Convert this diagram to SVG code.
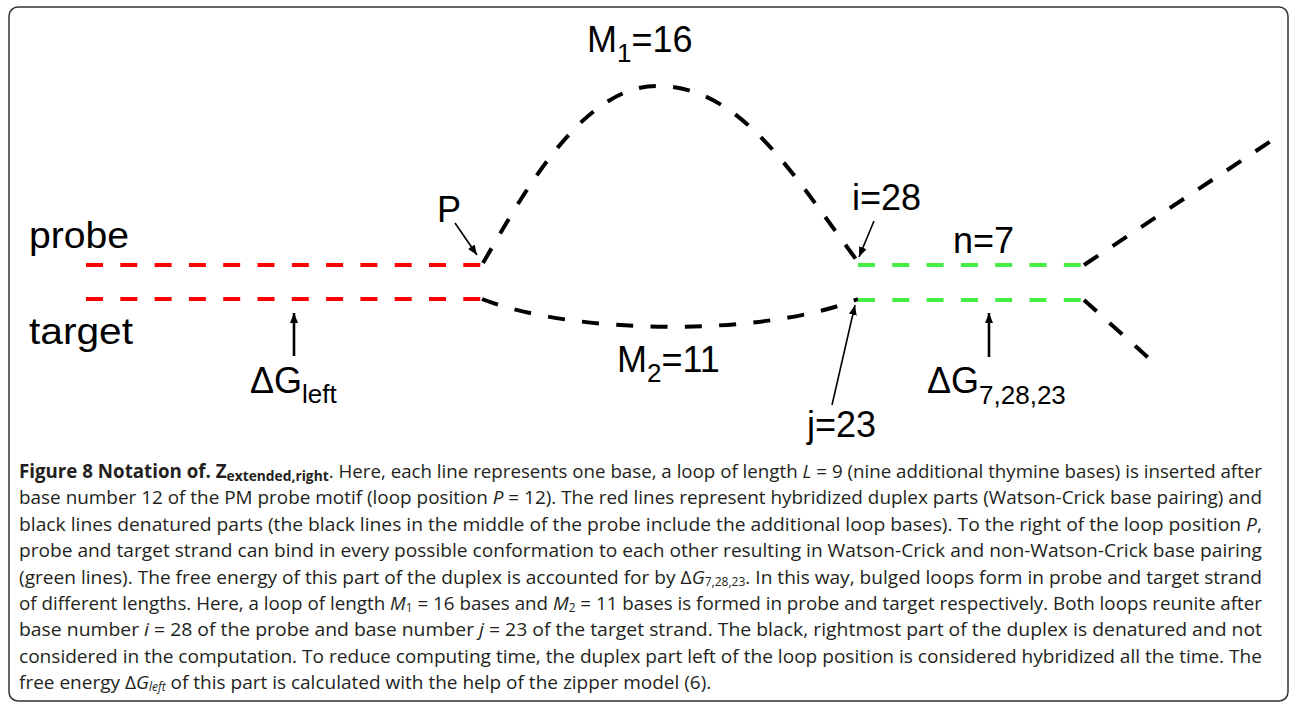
<svg xmlns="http://www.w3.org/2000/svg" width="1293" height="706" viewBox="0 0 1293 706">
<style>
.lbl{font-family:"Liberation Sans",Arial,sans-serif;font-size:36px;fill:#000}
.sub{font-size:26px}
.cap{font-family:"Open Sans","Noto Sans",sans-serif;font-size:19px;fill:#231f20}
.b{font-weight:bold}
.it{font-style:italic}
.red{fill:none;stroke:#ff0000;stroke-width:4;stroke-dasharray:17 17.3}
.grn{fill:none;stroke:#44ee44;stroke-width:4;stroke-dasharray:17 17.3}
.blk{fill:none;stroke:#000;stroke-width:4;stroke-dasharray:17 17.3}
.arr{fill:none;stroke:#000;stroke-width:1.6;marker-end:url(#ah)}
.arr2{fill:none;stroke:#000;stroke-width:2.6;marker-end:url(#ah)}
</style>
<defs>
<marker id="ah" markerUnits="userSpaceOnUse" markerWidth="12" markerHeight="10" refX="10" refY="4" orient="auto">
<path d="M0,0 L10,4 L0,8 Z" fill="#000"/>
</marker>
</defs>
<rect x="9" y="7" width="1279" height="694" rx="9" ry="9" fill="#fff" stroke="#333" stroke-width="1.5"/>
<g id="connectors">
<path id="probe-left" class="red" d="M86,265 H482"/>
<path id="target-left" class="red" d="M86,299 H482"/>
<path id="probe-loop" class="blk" d="M483,263 C520,200 580,86 657,86 C740,86 790,170 858,262"/>
<path id="target-loop" class="blk" d="M482,299 C570,334 760,338 858,299"/>
<path id="probe-mid" class="grn" d="M858,265 H1082"/>
<path id="target-mid" class="grn" d="M858,300 H1082"/>
<path id="probe-right" class="blk" d="M1084,265 L1277,137"/>
<path id="target-right" class="blk" d="M1084,300 L1152,361"/>
<path id="arrow-P" class="arr" d="M455,223 L477,255"/>
<path id="arrow-i" class="arr" d="M874,221 L859,257"/>
<path id="arrow-j" class="arr" d="M832,405 L855,305"/>
<path id="arrow-Gright" class="arr2" d="M989,357 V313"/>
<path id="arrow-Gleft" class="arr2" d="M294,356 V313"/>
</g>
<g id="label-probe"><text class="lbl" x="29" y="248" textLength="100" lengthAdjust="spacingAndGlyphs">probe</text></g>
<g id="label-target"><text class="lbl" x="29" y="344" textLength="104" lengthAdjust="spacingAndGlyphs">target</text></g>
<g id="label-P"><text class="lbl" x="437" y="222">P</text></g>
<g id="label-M1"><text class="lbl" x="587" y="52">M<tspan class="sub" dy="10">1</tspan><tspan dy="-10">=16</tspan></text></g>
<g id="label-i"><text class="lbl" x="852" y="210">i=28</text></g>
<g id="label-n"><text class="lbl" x="953" y="253">n=7</text></g>
<g id="label-M2"><text class="lbl" x="617" y="372">M<tspan class="sub" dy="10">2</tspan><tspan dy="-10">=11</tspan></text></g>
<g id="label-j"><text class="lbl" x="807" y="437">j=23</text></g>
<g id="label-Gleft"><text class="lbl" x="250" y="393">ΔG<tspan class="sub" dy="10">left</tspan></text></g>
<g id="label-Gright"><text class="lbl" x="927" y="393">ΔG<tspan class="sub" dy="11">7,28,23</tspan></text></g>
<g id="caption">
<text class="cap" x="19" y="478" textLength="1243" lengthAdjust="spacingAndGlyphs"><tspan class="b">Figure 8 Notation of. Z</tspan><tspan class="b" font-size="14" dy="3">extended,right</tspan><tspan dy="-3">. Here, each line represents one base, a loop of length </tspan><tspan class="it">L</tspan> = 9 (nine additional thymine bases) is inserted after</text>
<text class="cap" x="19" y="504.4" textLength="1243" lengthAdjust="spacingAndGlyphs">base number 12 of the PM probe motif (loop position <tspan class="it">P</tspan> = 12). The red lines represent hybridized duplex parts (Watson-Crick base pairing) and</text>
<text class="cap" x="19" y="530.8" textLength="1243" lengthAdjust="spacingAndGlyphs">black lines denatured parts (the black lines in the middle of the probe include the additional loop bases). To the right of the loop position <tspan class="it">P</tspan>,</text>
<text class="cap" x="19" y="557.2" textLength="1243" lengthAdjust="spacingAndGlyphs">probe and target strand can bind in every possible conformation to each other resulting in Watson-Crick and non-Watson-Crick base pairing</text>
<text class="cap" x="19" y="583.6" textLength="1243" lengthAdjust="spacingAndGlyphs">(green lines). The free energy of this part of the duplex is accounted for by Δ<tspan class="it">G</tspan><tspan font-size="12" dy="2">7,28,23</tspan><tspan dy="-2">. In this way, bulged loops form in probe and target strand</tspan></text>
<text class="cap" x="19" y="610" textLength="1243" lengthAdjust="spacingAndGlyphs">of different lengths. Here, a loop of length <tspan class="it">M</tspan><tspan font-size="12" dy="2">1</tspan><tspan dy="-2"> = 16 bases and </tspan><tspan class="it">M</tspan><tspan font-size="12" dy="2">2</tspan><tspan dy="-2"> = 11 bases is formed in probe and target respectively. Both loops reunite after</tspan></text>
<text class="cap" x="19" y="636.4" textLength="1243" lengthAdjust="spacingAndGlyphs">base number <tspan class="it">i</tspan> = 28 of the probe and base number <tspan class="it">j</tspan> = 23 of the target strand. The black, rightmost part of the duplex is denatured and not</text>
<text class="cap" x="19" y="662.8" textLength="1243" lengthAdjust="spacingAndGlyphs">considered in the computation. To reduce computing time, the duplex part left of the loop position is considered hybridized all the time. The</text>
<text class="cap" x="19" y="689.2">free energy Δ<tspan class="it">G</tspan><tspan class="it" font-size="12" dy="2">left</tspan><tspan dy="-2"> of this part is calculated with the help of the zipper model (6).</tspan></text>
</g>
</svg>
